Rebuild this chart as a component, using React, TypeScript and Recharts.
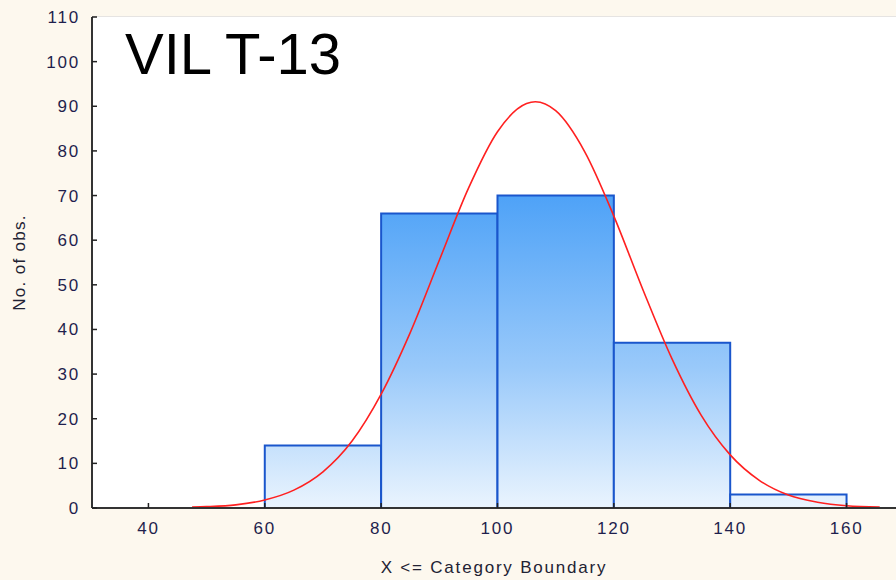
import React from 'react';
import { ComposedChart, Line, XAxis, YAxis, CartesianGrid, ReferenceArea } from 'recharts';

// histogram bins (upper boundary labels on x)
const binStarts = [60, 80, 100, 120, 140];
const binEnds = [80, 100, 120, 140, 160];
const binCounts = [14, 66, 70, 37, 3];

// fitted normal curve
const curveX = [47.5, 50, 55, 60, 65, 70, 75, 80, 85, 90, 95, 100, 105, 106.5, 110, 115, 120, 125, 130, 135, 140, 145, 150, 155, 160, 165.7];
const curveY = [0.2, 0.3, 0.7, 1.8, 4, 8.1, 15, 25.5, 39.3, 55.5, 71.6, 84.3, 90.6, 91, 89, 79.8, 65.4, 48.9, 33.4, 20.8, 11.9, 6.2, 2.9, 1.3, 0.5, 0.2];

const xTicks = [40, 60, 80, 100, 120, 140, 160];
const yTicks = [0, 10, 20, 30, 40, 50, 60, 70, 80, 90, 100, 110];

const title = 'VIL T-13';

const curveData = curveX.map((x, i) => ({ x, y: curveY[i] }));

const FONT = '"Liberation Sans", Arial, sans-serif';
const tickStyle = { fontFamily: FONT, fontSize: 17, fill: '#1f1f4d', letterSpacing: 1.8 };

export default function App() {
  return (
    <div style={{ position: 'absolute', left: 0, top: 0, width: 896, height: 580, background: '#fdf8ee', overflow: 'hidden' }}>
      <ComposedChart
        width={896}
        height={580}
        data={curveData}
        margin={{ top: 17, right: 0, bottom: 0, left: 0 }}
      >
        <defs>
          <linearGradient id="barFill" gradientUnits="userSpaceOnUse" x1="0" y1="195" x2="0" y2="508">
            <stop offset="0%" stopColor="#4ea2f7" />
            <stop offset="55%" stopColor="#99c9fa" />
            <stop offset="100%" stopColor="#eaf4fe" />
          </linearGradient>
        </defs>
        <rect x={92} y={17} width={804} height={491} fill="#ffffff" />
        <CartesianGrid vertical={false} stroke="#dedede" strokeWidth={1.5} />
        <XAxis
          dataKey="x"
          type="number"
          domain={[30.3, 168.5]}
          ticks={xTicks}
          allowDataOverflow
          height={72}
          tickSize={-5}
          tickMargin={19}
          tick={tickStyle}
          axisLine={{ stroke: '#333333', strokeWidth: 2 }}
          tickLine={{ stroke: '#222222', strokeWidth: 1.5 }}
          label={{ value: 'X <= Category Boundary', position: 'insideBottom', offset: 7, style: { fontFamily: FONT, fontSize: 17, fill: '#222233', letterSpacing: 1.8 } }}
        />
        <XAxis
          xAxisId="top"
          orientation="top"
          type="number"
          domain={[30.3, 168.5]}
          ticks={xTicks}
          allowDataOverflow
          height={0}
          tickSize={-5}
          tick={false}
          axisLine={{ stroke: '#333333', strokeWidth: 2 }}
          tickLine={{ stroke: '#222222', strokeWidth: 1.5 }}
        />
        <YAxis
          type="number"
          domain={[0, 110]}
          ticks={yTicks}
          width={92}
          tickSize={-5}
          tickMargin={17}
          tick={tickStyle}
          axisLine={{ stroke: '#333333', strokeWidth: 2 }}
          tickLine={{ stroke: '#222222', strokeWidth: 1.5 }}
          label={{ value: 'No. of obs.', angle: -90, position: 'insideLeft', offset: 19, style: { fontFamily: FONT, fontSize: 17, fill: '#222233', letterSpacing: 1.3, textAnchor: 'middle' } }}
        />
        {binCounts.map((c, i) => (
          <ReferenceArea
            key={`bin-${i}`}
            x1={binStarts[i]}
            x2={binEnds[i]}
            y1={0}
            y2={c}
            fill="url(#barFill)"
            fillOpacity={1}
            stroke="#1a56cc"
            strokeWidth={2}
            ifOverflow="visible"
          />
        ))}
        <Line
          type="monotone"
          dataKey="y"
          stroke="#ff2020"
          strokeWidth={1.6}
          dot={false}
          activeDot={false}
          isAnimationActive={false}
        />
      </ComposedChart>
      <div
        style={{ position: 'absolute', left: 125, top: 21, fontFamily: FONT, fontSize: 58, lineHeight: '66px', color: '#000000' }}
      >
        {title}
      </div>
    </div>
  );
}
